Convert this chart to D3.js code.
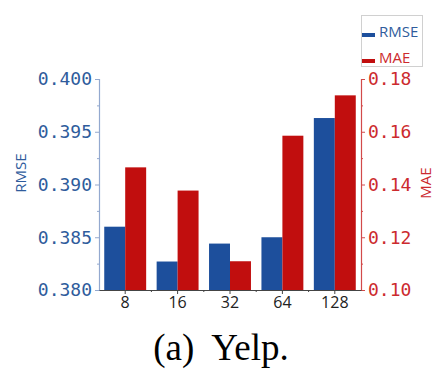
<!DOCTYPE html>
<html>
<head>
<meta charset="utf-8">
<script src="https://cdn.jsdelivr.net/npm/d3@7"></script>
<style>
  html, body { margin: 0; padding: 0; background: #fff; }
  svg { display: block; }
</style>
</head>
<body>
<svg id="chart" width="435" height="369"></svg>
<script>
// Embedding dimension vs. error on Yelp
const categories = ["8", "16", "32", "64", "128"];
const rmseValues = [0.3860, 0.3827, 0.3844, 0.3850, 0.3963];
const maeValues  = [0.1465, 0.1377, 0.1109, 0.1585, 0.1738];
const rmseTicks = [0.380, 0.385, 0.390, 0.395, 0.400];
const maeTicks  = [0.10, 0.12, 0.14, 0.16, 0.18];
const seriesNames = ["RMSE", "MAE"];

const BLUE = "#1d4f9c";
const RED = "#c10e0e";
const BLUE_TXT = "#2f5c9c";
const RED_TXT = "#cc2a2e";

const svg = d3.select("#chart");
const plot = { left: 99, right: 361, top: 79, bottom: 290 };

const x = d3.scaleBand()
  .domain(categories)
  .range([plot.left, plot.right])
  .paddingInner(0.2)
  .paddingOuter(0.1);

const yL = d3.scaleLinear().domain([0.380, 0.400]).range([plot.bottom, plot.top]);
const yR = d3.scaleLinear().domain([0.10, 0.18]).range([plot.bottom, plot.top]);

const half = x.bandwidth() / 2;

// RMSE bars (left axis)
svg.append("g").selectAll("rect")
  .data(categories)
  .join("rect")
  .attr("x", (d) => x(d))
  .attr("y", (d, i) => yL(rmseValues[i]))
  .attr("width", half)
  .attr("height", (d, i) => plot.bottom - yL(rmseValues[i]))
  .attr("fill", BLUE);

// MAE bars (right axis)
svg.append("g").selectAll("rect")
  .data(categories)
  .join("rect")
  .attr("x", (d) => x(d) + half)
  .attr("y", (d, i) => yR(maeValues[i]))
  .attr("width", half)
  .attr("height", (d, i) => plot.bottom - yR(maeValues[i]))
  .attr("fill", RED);

const monoFont = "'DejaVu Sans Mono', monospace";
const sansFont = "'Open Sans', 'DejaVu Sans', sans-serif";

// Left axis
const leftAxis = svg.append("g")
  .attr("transform", `translate(${plot.left},0)`)
  .call(d3.axisLeft(yL).tickValues(rmseTicks).tickFormat(d3.format(".3f")).tickSize(4).tickPadding(3));
leftAxis.select(".domain").attr("stroke", "#93a9cf").attr("stroke-width", 1.2);
leftAxis.selectAll(".tick line").attr("stroke", "#93a9cf");
leftAxis.selectAll(".tick text")
  .attr("fill", BLUE_TXT)
  .style("font-family", monoFont)
  .style("font-size", "18px");
svg.append("g")
  .attr("transform", `translate(${plot.left},0)`)
  .call(d3.axisLeft(yL).tickValues(d3.range(4).map((i) => rmseTicks[i] + 0.0025)).tickSize(2).tickFormat(""))
  .call((g) => g.select(".domain").remove())
  .selectAll(".tick line").attr("stroke", "#93a9cf");

// Right axis
const rightAxis = svg.append("g")
  .attr("transform", `translate(${plot.right},0)`)
  .call(d3.axisRight(yR).tickValues(maeTicks).tickFormat(d3.format(".2f")).tickSize(4).tickPadding(3));
rightAxis.select(".domain").attr("stroke", "#d24a4a").attr("stroke-width", 1.2);
rightAxis.selectAll(".tick line").attr("stroke", "#d24a4a");
rightAxis.selectAll(".tick text")
  .attr("fill", RED_TXT)
  .style("font-family", monoFont)
  .style("font-size", "18px");
svg.append("g")
  .attr("transform", `translate(${plot.right},0)`)
  .call(d3.axisRight(yR).tickValues(d3.range(4).map((i) => maeTicks[i] + 0.01)).tickSize(2).tickFormat(""))
  .call((g) => g.select(".domain").remove())
  .selectAll(".tick line").attr("stroke", "#d24a4a");

// Bottom axis
const bottomAxis = svg.append("g")
  .attr("transform", `translate(0,${plot.bottom})`)
  .call(d3.axisBottom(x).tickSize(4).tickSizeOuter(0).tickPadding(3));
bottomAxis.select(".domain").attr("stroke", "#444").attr("stroke-width", 1.2);
bottomAxis.selectAll(".tick line").attr("stroke", "#444");
bottomAxis.selectAll(".tick text")
  .attr("fill", "#222")
  .style("font-family", sansFont)
  .style("font-size", "16px");
const step = x.step();
svg.append("g").selectAll("line")
  .data(categories.slice(1))
  .join("line")
  .attr("x1", (d) => x(d) - (step - x.bandwidth()) / 2)
  .attr("x2", (d) => x(d) - (step - x.bandwidth()) / 2)
  .attr("y1", plot.bottom)
  .attr("y2", plot.bottom + 2)
  .attr("stroke", "#444");

// Axis titles
svg.append("text")
  .attr("transform", "translate(26,173) rotate(-90)")
  .attr("text-anchor", "middle")
  .attr("fill", BLUE_TXT)
  .style("font-family", sansFont)
  .style("font-size", "15px")
  .text("RMSE");
svg.append("text")
  .attr("transform", "translate(431,183) rotate(-90)")
  .attr("text-anchor", "middle")
  .attr("fill", RED_TXT)
  .style("font-family", sansFont)
  .style("font-size", "15px")
  .text("MAE");

// Legend
const legend = svg.append("g");
legend.append("rect")
  .attr("x", 361.5).attr("y", 15.5).attr("width", 61).attr("height", 51)
  .attr("fill", "#fff").attr("stroke", "#d0d0d0");
const legendRows = [
  { name: seriesNames[0], color: BLUE, text: BLUE_TXT, y: 33 },
  { name: seriesNames[1], color: RED, text: RED_TXT, y: 59 }
];
legendRows.forEach((r) => {
  legend.append("rect")
    .attr("x", 362).attr("y", r.y).attr("width", 13).attr("height", 4)
    .attr("fill", r.color);
  legend.append("text")
    .attr("x", 379).attr("y", r.y + 4)
    .attr("fill", r.text)
    .style("font-family", sansFont)
    .style("font-size", "15px")
    .text(r.name);
});

// Caption
svg.append("text")
  .attr("x", 221)
  .attr("y", 360)
  .attr("text-anchor", "middle")
  .attr("fill", "#000")
  .style("font-family", "'Liberation Serif', 'Times New Roman', serif")
  .style("font-size", "37px")
  .attr("xml:space", "preserve")
  .text("(a)  Yelp.");
</script>
</body>
</html>
